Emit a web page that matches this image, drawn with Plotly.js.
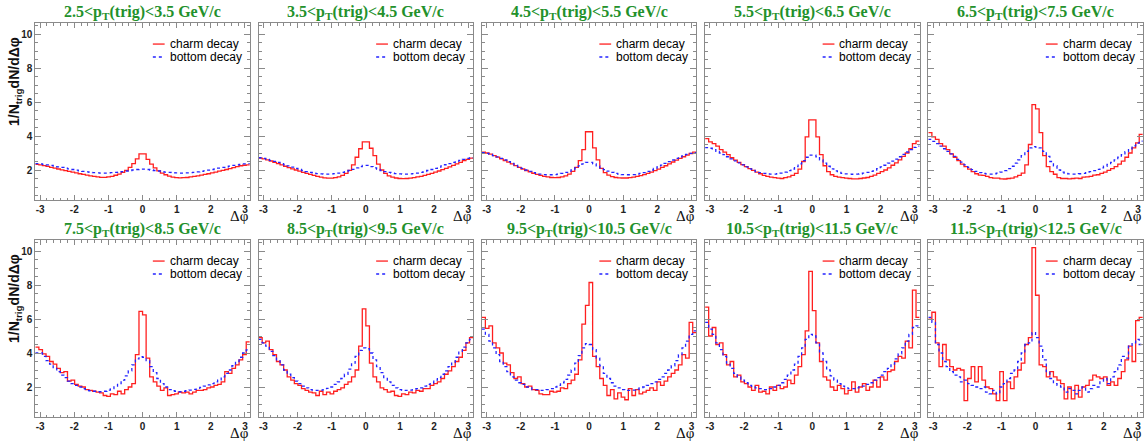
<!DOCTYPE html>
<html><head><meta charset="utf-8">
<script src="https://cdn.plot.ly/plotly-3.0.1.min.js"></script>
<style>html,body{margin:0;padding:0;background:#fff;}#chart{width:1144px;height:442px;}</style>
</head><body><div id="chart"></div>
<script>
// ---- data (60 bins in delta-phi from -pi to pi) ----
const panelTitles = [
  "2.5&lt;p<sub>T</sub>(trig)&lt;3.5 GeV/c", "3.5&lt;p<sub>T</sub>(trig)&lt;4.5 GeV/c",
  "4.5&lt;p<sub>T</sub>(trig)&lt;5.5 GeV/c", "5.5&lt;p<sub>T</sub>(trig)&lt;6.5 GeV/c",
  "6.5&lt;p<sub>T</sub>(trig)&lt;7.5 GeV/c", "7.5&lt;p<sub>T</sub>(trig)&lt;8.5 GeV/c",
  "8.5&lt;p<sub>T</sub>(trig)&lt;9.5 GeV/c", "9.5&lt;p<sub>T</sub>(trig)&lt;10.5 GeV/c",
  "10.5&lt;p<sub>T</sub>(trig)&lt;11.5 GeV/c", "11.5&lt;p<sub>T</sub>(trig)&lt;12.5 GeV/c"
];
const seriesNames = ["charm decay", "bottom decay"];
const xTickVals = [-3, -2, -1, 0, 1, 2, 3];
const yTickVals = [2, 4, 6, 8, 10];

const charm1 = [2.33,2.30,2.26,2.21,2.16,2.11,2.06,2.01,1.96,1.92,1.87,1.83,1.78,1.74,1.70,1.66,1.62,1.59,1.57,1.57,1.59,1.63,1.69,1.76,1.86,1.98,2.15,2.38,2.65,2.95,2.95,2.62,2.35,2.12,1.95,1.82,1.72,1.64,1.58,1.55,1.54,1.55,1.56,1.59,1.62,1.66,1.70,1.74,1.78,1.83,1.88,1.93,1.98,2.03,2.08,2.14,2.20,2.25,2.28,2.30];
const bottom1 = [2.38,2.36,2.33,2.30,2.27,2.23,2.19,2.15,2.11,2.07,2.03,1.99,1.95,1.92,1.89,1.86,1.84,1.83,1.82,1.82,1.83,1.84,1.86,1.88,1.91,1.94,1.97,2.00,2.03,2.05,2.05,2.03,2.00,1.97,1.94,1.91,1.88,1.86,1.84,1.83,1.82,1.82,1.83,1.84,1.86,1.89,1.92,1.95,1.99,2.03,2.07,2.11,2.15,2.19,2.23,2.27,2.30,2.33,2.36,2.38];

const charm2 = [2.70,2.66,2.60,2.53,2.45,2.38,2.30,2.22,2.14,2.07,2.00,1.93,1.86,1.80,1.74,1.68,1.63,1.58,1.54,1.52,1.52,1.55,1.60,1.68,1.80,1.98,2.30,2.75,3.25,3.65,3.65,3.28,2.85,2.35,2.00,1.80,1.66,1.58,1.53,1.50,1.49,1.50,1.52,1.55,1.59,1.63,1.68,1.74,1.80,1.87,1.94,2.02,2.10,2.18,2.27,2.36,2.45,2.55,2.63,2.70];
const bottom2 = [2.72,2.68,2.63,2.57,2.51,2.45,2.38,2.31,2.24,2.17,2.10,2.03,1.97,1.91,1.86,1.82,1.79,1.77,1.76,1.76,1.77,1.79,1.82,1.86,1.91,1.97,2.04,2.12,2.20,2.27,2.27,2.20,2.12,2.04,1.97,1.91,1.86,1.82,1.79,1.77,1.76,1.76,1.77,1.79,1.82,1.86,1.91,1.97,2.03,2.10,2.17,2.24,2.31,2.38,2.45,2.51,2.57,2.63,2.68,2.72];

const charm3 = [3.05,3.00,2.93,2.85,2.76,2.66,2.56,2.46,2.36,2.26,2.16,2.06,1.97,1.89,1.81,1.74,1.68,1.63,1.59,1.56,1.55,1.56,1.60,1.66,1.76,1.92,2.15,2.55,3.20,4.25,4.25,3.30,2.60,2.10,1.85,1.70,1.61,1.56,1.54,1.53,1.53,1.55,1.58,1.62,1.67,1.73,1.80,1.88,1.96,2.05,2.15,2.25,2.36,2.47,2.58,2.68,2.78,2.88,2.97,3.05];
const bottom3 = [3.02,2.98,2.92,2.85,2.77,2.68,2.59,2.49,2.39,2.29,2.19,2.09,2.00,1.92,1.85,1.80,1.76,1.73,1.72,1.72,1.73,1.76,1.80,1.86,1.93,2.02,2.12,2.24,2.36,2.45,2.45,2.36,2.24,2.12,2.02,1.93,1.86,1.80,1.76,1.73,1.72,1.72,1.73,1.76,1.80,1.85,1.92,2.00,2.09,2.19,2.29,2.39,2.49,2.59,2.68,2.77,2.85,2.92,2.98,3.02];

const charm4 = [3.85,3.65,3.55,3.40,3.20,3.05,2.90,2.72,2.58,2.45,2.32,2.20,2.08,1.98,1.88,1.78,1.68,1.62,1.58,1.55,1.52,1.50,1.55,1.60,1.68,1.80,2.05,2.50,3.95,4.95,4.95,3.95,2.90,2.25,1.90,1.72,1.62,1.58,1.55,1.52,1.50,1.48,1.48,1.50,1.53,1.56,1.62,1.70,1.80,1.90,2.00,2.12,2.28,2.42,2.60,2.80,3.00,3.25,3.55,3.70];
const bottom4 = [3.32,3.28,3.20,3.10,3.00,2.90,2.78,2.66,2.54,2.42,2.30,2.18,2.07,1.98,1.90,1.84,1.80,1.77,1.76,1.76,1.78,1.82,1.88,1.96,2.06,2.20,2.36,2.55,2.75,2.88,2.88,2.78,2.60,2.40,2.22,2.07,1.95,1.86,1.80,1.77,1.76,1.75,1.76,1.78,1.82,1.86,1.92,2.00,2.08,2.18,2.28,2.40,2.52,2.64,2.78,2.92,3.06,3.20,3.33,3.40];

const charm5 = [4.20,3.95,3.80,3.55,3.40,3.20,2.95,2.75,2.55,2.35,2.20,2.05,1.90,1.78,1.70,1.68,1.62,1.55,1.52,1.52,1.48,1.47,1.50,1.52,1.60,1.68,1.82,2.30,3.50,5.85,5.60,4.20,2.85,2.20,1.90,1.75,1.55,1.50,1.50,1.48,1.50,1.52,1.50,1.58,1.60,1.62,1.70,1.72,1.80,1.88,1.98,2.08,2.20,2.35,2.52,2.75,3.00,3.30,3.60,4.10];
const bottom5 = [3.80,3.68,3.55,3.40,3.25,3.10,2.95,2.80,2.62,2.46,2.30,2.15,2.02,1.92,1.85,1.80,1.77,1.76,1.78,1.82,1.88,1.96,2.08,2.22,2.40,2.60,2.85,3.10,3.30,3.38,3.35,3.30,3.10,2.80,2.50,2.25,2.00,1.88,1.80,1.77,1.76,1.76,1.78,1.80,1.84,1.90,1.96,2.04,2.12,2.22,2.33,2.45,2.60,2.75,2.90,3.08,3.25,3.42,3.58,3.70];

const charm6 = [4.35,4.20,3.95,3.80,3.50,3.35,3.10,2.85,2.90,2.35,2.40,2.15,2.05,2.00,1.85,1.80,1.75,1.70,1.65,1.50,1.45,1.60,1.55,1.75,1.60,1.85,2.00,2.20,3.90,6.45,6.25,3.70,2.60,2.30,2.05,1.80,1.95,1.50,1.55,1.60,1.70,1.65,1.70,1.60,1.70,1.80,1.80,1.85,1.95,2.00,2.10,2.15,2.30,2.90,2.80,3.10,3.30,3.60,3.90,4.65];
const bottom6 = [4.00,4.00,3.80,3.55,3.35,3.10,2.90,2.70,2.55,2.35,2.20,2.10,2.00,1.90,1.80,1.78,1.75,1.72,1.72,1.75,1.82,1.90,2.05,2.20,2.40,2.65,2.95,3.30,3.65,3.78,3.75,3.55,3.20,2.85,2.50,2.20,2.00,1.85,1.78,1.75,1.72,1.75,1.78,1.82,1.86,1.92,1.98,2.05,2.12,2.20,2.30,2.42,2.60,2.80,3.00,3.25,3.50,3.75,4.00,4.18];

const charm7 = [4.90,4.60,4.70,4.20,3.90,3.50,3.30,3.00,2.60,2.40,2.20,2.10,1.90,1.80,1.70,1.65,1.50,1.75,1.55,1.70,1.60,1.75,1.85,1.95,2.15,2.30,2.60,3.00,4.40,6.60,5.60,3.40,2.60,2.30,1.95,1.85,1.70,1.75,1.50,1.45,1.60,1.55,1.70,1.65,1.80,1.75,1.90,1.90,2.10,2.20,2.30,2.50,2.75,2.95,3.20,3.50,3.75,4.15,4.60,4.90];
const bottom7 = [4.80,4.60,4.40,4.10,3.85,3.55,3.30,3.00,2.75,2.55,2.35,2.20,2.05,1.95,1.85,1.80,1.80,1.82,1.85,1.92,2.00,2.15,2.30,2.50,2.75,3.05,3.40,3.80,4.15,4.30,4.25,4.00,3.60,3.20,2.85,2.55,2.30,2.10,1.95,1.85,1.80,1.80,1.82,1.85,1.90,1.95,2.05,2.15,2.25,2.40,2.55,2.75,2.95,3.20,3.45,3.75,4.05,4.35,4.60,4.80];

const charm8 = [6.10,5.45,5.60,4.60,4.30,4.00,3.40,3.30,2.85,2.50,2.60,2.20,2.00,2.05,1.85,1.80,1.60,1.55,1.55,1.75,1.70,1.75,1.95,1.90,2.20,2.40,2.75,3.60,5.70,6.80,8.15,3.80,3.20,2.50,2.10,1.50,1.85,1.30,1.65,1.40,1.25,1.90,1.50,1.85,1.60,1.70,1.80,1.95,1.80,2.30,2.10,2.35,2.60,2.80,3.00,3.30,3.90,3.70,5.80,5.20];
const bottom8 = [5.40,5.10,4.70,4.30,3.90,3.50,3.20,2.90,2.60,2.40,2.25,2.15,2.00,1.95,1.85,1.85,1.80,1.80,1.85,1.90,2.00,2.10,2.25,2.45,2.70,3.00,3.40,3.85,4.30,4.55,4.50,4.20,3.70,3.25,2.80,2.50,2.25,2.05,1.95,1.85,1.80,1.80,1.82,1.88,1.95,2.00,2.10,2.20,2.30,2.45,2.60,2.80,3.00,3.25,3.55,3.90,4.30,4.70,5.10,5.30];

const charm9 = [6.70,5.00,5.50,4.50,4.60,3.90,3.30,3.50,2.60,2.70,2.30,2.20,2.00,1.80,2.10,1.70,1.75,1.60,2.00,1.80,2.10,1.90,2.00,2.40,2.20,2.70,3.20,3.90,5.30,8.80,6.50,4.60,3.50,2.60,2.40,2.00,1.80,2.10,1.90,1.60,1.80,2.30,1.70,2.00,2.20,1.80,2.00,2.40,2.00,2.60,2.40,2.90,3.00,3.50,3.80,3.70,4.70,4.30,7.70,6.10];
const bottom9 = [5.80,5.40,5.10,4.60,4.20,3.80,3.40,3.10,2.80,2.60,2.40,2.25,2.10,2.00,1.95,1.90,1.85,1.85,1.90,2.00,2.10,2.25,2.45,2.70,3.00,3.35,3.80,4.30,4.80,5.10,5.00,4.60,4.00,3.50,3.00,2.65,2.40,2.20,2.05,1.95,1.90,1.90,1.95,2.00,2.05,2.15,2.25,2.40,2.55,2.70,2.90,3.10,3.35,3.65,3.95,4.30,4.70,5.10,5.50,5.60];

const charm10 = [6.00,6.40,4.60,3.20,4.50,3.60,3.20,3.00,3.10,3.00,1.20,2.50,3.20,2.30,3.20,2.40,2.00,1.90,1.60,1.20,2.90,1.20,2.30,1.90,2.60,3.00,3.40,4.50,4.90,10.20,7.40,3.30,3.20,2.60,2.90,2.60,2.40,2.20,1.30,2.00,1.30,2.10,1.40,2.00,2.10,2.40,2.70,2.60,2.50,2.60,2.10,2.30,2.10,2.50,2.90,3.60,4.40,3.50,5.90,6.10];
const bottom10 = [6.10,5.80,4.50,4.00,3.50,3.20,2.90,2.70,2.60,2.30,2.40,2.20,2.10,2.00,1.90,2.00,1.70,1.60,1.80,1.60,2.00,2.20,2.50,2.80,3.00,3.50,4.00,4.50,4.60,5.20,4.90,4.40,3.60,2.90,2.50,2.20,2.10,2.00,1.70,1.90,1.80,1.60,1.80,2.00,1.70,1.90,2.10,2.00,2.30,2.50,2.20,2.60,2.90,3.30,3.80,3.70,4.40,4.60,4.80,4.50];

const charmSets = [charm1,charm2,charm3,charm4,charm5,charm6,charm7,charm8,charm9,charm10];
const bottomSets = [bottom1,bottom2,bottom3,bottom4,bottom5,bottom6,bottom7,bottom8,bottom9,bottom10];

// ---- layout geometry (pixels) ----
const W = 1144, H = 442;
const colLeft = [35.3, 258.6, 481.8, 705.1, 928.3];
const panelW = 214.5;
const rowTop = [23, 240];
const panelH = 177;
const yRange = [0.235, 10.65];
const frameCol = '#8a8a8a';

function edges(n) {
  const e = [];
  for (let i = 0; i <= n; i++) e.push(-Math.PI + i * 2 * Math.PI / n);
  return e;
}
function stepY(v) { return v.concat([v[v.length - 1]]); }

const traces = [];
const layout = {
  width: W, height: H,
  margin: {l: 0, r: 0, t: 0, b: 0},
  paper_bgcolor: '#ffffff', plot_bgcolor: '#ffffff',
  showlegend: false,
  annotations: [], shapes: []
};

for (let p = 0; p < 10; p++) {
  const r = Math.floor(p / 5), c = p % 5;
  const n = p + 1;
  const xa = 'x' + (n === 1 ? '' : n), ya = 'y' + (n === 1 ? '' : n);
  const xk = 'xaxis' + (n === 1 ? '' : n), yk = 'yaxis' + (n === 1 ? '' : n);
  const left = colLeft[c], top = rowTop[r];
  const xs = edges(charmSets[p].length);

  traces.push({x: xs, y: stepY(charmSets[p]), xaxis: xa, yaxis: ya, type: 'scatter', mode: 'lines',
    line: {shape: 'hv', color: '#ff1f1f', width: 1.3}, name: seriesNames[0], hoverinfo: 'skip'});
  traces.push({x: xs, y: stepY(bottomSets[p]), xaxis: xa, yaxis: ya, type: 'scatter', mode: 'lines',
    line: {shape: 'hv', color: '#2323ff', width: 1.3, dash: 'dot'}, name: seriesNames[1], hoverinfo: 'skip'});

  layout[xk] = {
    domain: [left / W, (left + panelW) / W], anchor: ya,
    range: [-Math.PI, Math.PI], tickmode: 'array', tickvals: xTickVals, ticktext: xTickVals.map(String),
    ticks: 'inside', ticklen: 5, tickwidth: 1, tickcolor: frameCol,
    showline: true, linecolor: frameCol, linewidth: 1, mirror: 'allticks',
    showgrid: false, zeroline: false, fixedrange: true,
    tickfont: {family: 'Liberation Sans, Arial, sans-serif', size: 10, weight: 'bold', color: '#222'},
    minor: {ticks: 'inside', ticklen: 2.5, tickcolor: frameCol, dtick: 0.2, tick0: 0, showgrid: false}
  };
  layout[yk] = {
    domain: [1 - (top + panelH) / H, 1 - top / H], anchor: xa,
    range: yRange, tickmode: 'array', tickvals: yTickVals, ticktext: yTickVals.map(String),
    showticklabels: c === 0,
    ticks: 'inside', ticklen: 6, tickwidth: 1, tickcolor: frameCol,
    showline: true, linecolor: frameCol, linewidth: 1, mirror: 'allticks',
    showgrid: false, zeroline: false, fixedrange: true,
    tickfont: {family: 'Liberation Sans, Arial, sans-serif', size: 10, weight: 'bold', color: '#222'},
    minor: {ticks: 'inside', ticklen: 3, tickcolor: frameCol, dtick: 0.5, tick0: 0, showgrid: false}
  };

  // panel title
  layout.annotations.push({
    xref: 'paper', yref: 'paper', x: (left + panelW / 2) / W, y: 1 - (top - 11) / H,
    xanchor: 'center', yanchor: 'middle', showarrow: false, text: panelTitles[p],
    font: {family: 'Liberation Serif, Times New Roman, serif', size: 16, weight: 'bold', color: '#23912b'}
  });
  // x axis label
  layout.annotations.push({
    xref: 'paper', yref: 'paper', x: (left + panelW + 1) / W, y: 1 - (top + panelH + 16) / H,
    xanchor: 'right', yanchor: 'middle', showarrow: false, text: 'Δφ',
    font: {family: 'Liberation Serif, Times New Roman, serif', size: 15, color: '#111'}
  });
  // legend
  const ly = [0.881, 0.808];
  const lcol = ['#ff1f1f', '#2323ff'];
  for (let k = 0; k < 2; k++) {
    layout.shapes.push({type: 'line', xref: xa + ' domain', yref: ya + ' domain',
      x0: 0.548, x1: 0.603, y0: ly[k], y1: ly[k],
      line: {color: lcol[k], width: 1.3, dash: k === 0 ? 'solid' : 'dot'}});
    layout.annotations.push({xref: xa + ' domain', yref: ya + ' domain', x: 0.617, y: ly[k],
      xanchor: 'left', yanchor: 'middle', showarrow: false, text: seriesNames[k],
      font: {family: 'Liberation Sans, Arial, sans-serif', size: 12, color: '#000'}});
  }
}
// y axis titles
[82, 299].forEach(function (yc) {
  layout.annotations.push({xref: 'paper', yref: 'paper', x: 15 / W, y: 1 - yc / H,
    xanchor: 'center', yanchor: 'middle', showarrow: false, textangle: -90,
    text: '1/N<sub>trig</sub>dN/dΔφ',
    font: {family: 'Liberation Sans, Arial, sans-serif', size: 14, weight: 'bold', color: '#111'}});
});

Plotly.newPlot('chart', traces, layout, {staticPlot: true, displayModeBar: false});
</script>
</body></html>
